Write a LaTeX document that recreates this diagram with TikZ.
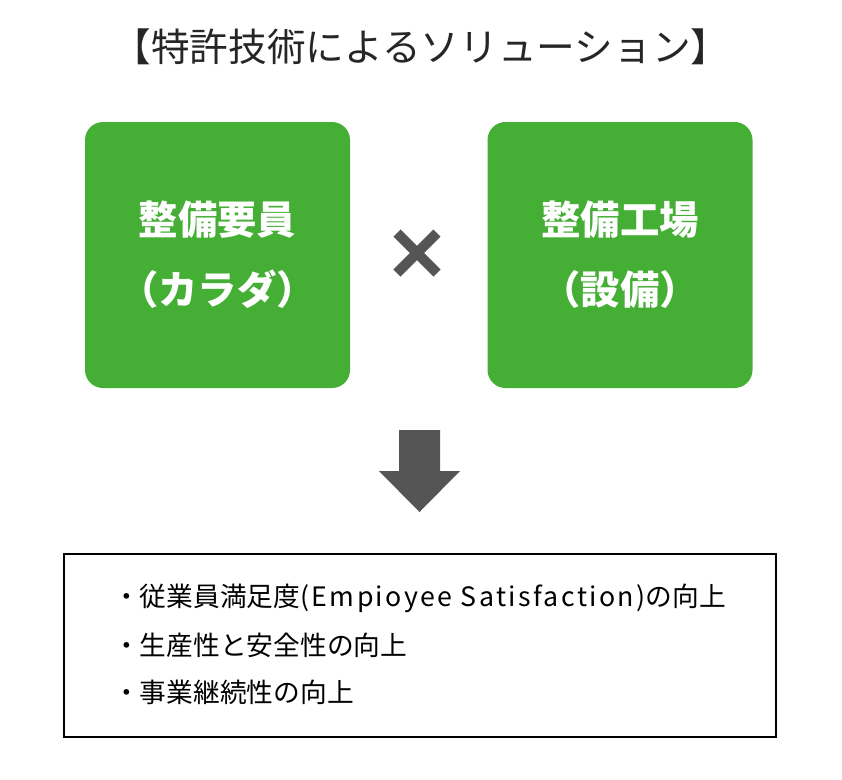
\documentclass[tikz,border=0pt]{standalone}
\usepackage{fontspec}
\setmainfont{Noto Sans CJK JP}
\usepackage{xcolor}
\usetikzlibrary{positioning, calc}

\definecolor{boxgreen}{HTML}{45AE35}
\definecolor{markgray}{HTML}{555555}

\tikzset{
  greenbox/.style={fill=boxgreen, rounded corners=18*0.025cm, minimum width=265*0.025cm,
    minimum height=266*0.025cm, text=white, align=center, font=\bfseries\fontsize{28}{50}\selectfont},
  itemline/.style={anchor=west, font=\fontsize{19}{22}\selectfont, inner sep=0pt}
}

\begin{document}
\begin{tikzpicture}[x=0.025cm, y=-0.025cm]
  \useasboundingbox (0,0) rectangle (842,779);

  % title
  \node[font=\fontsize{27.5}{30}\selectfont, text=black!85] (title) at (421,47) {【特許技術によるソリューション】};

  % two green boxes
  \node[greenbox] (staff) at (217.5,255) {整備要員\\（カラダ）};
  \node[greenbox] (plant) at (620,255) {整備工場\\（設備）};

  % cross mark
  \coordinate (times) at (417,253);
  \draw[markgray, line width=10*0.025cm] ($(times)+(-20,-20)$) -- ($(times)+(20,20)$);
  \draw[markgray, line width=10*0.025cm] ($(times)+(-20,20)$) -- ($(times)+(20,-20)$);

  % block arrow
  \fill[markgray] (399,430) -- (440,430) -- (440,471) -- (460,471) -- (419.5,512)
    -- (379,471) -- (399,471) -- cycle;

  % result box
  \node[draw=black, line width=2*0.025cm, minimum width=712*0.025cm, minimum height=183*0.025cm]
    (result) at (420,645.5) {};
  \node[itemline] (item1) at (113,598)
    {・従業員満足度{\addfontfeature{LetterSpace=9}(Empioyee Satisfaction)}の向上};
  \node[itemline] (item2) at (113,645) {・生産性と安全性の向上};
  \node[itemline] (item3) at (113,692) {・事業継続性の向上};
\end{tikzpicture}
\end{document}
